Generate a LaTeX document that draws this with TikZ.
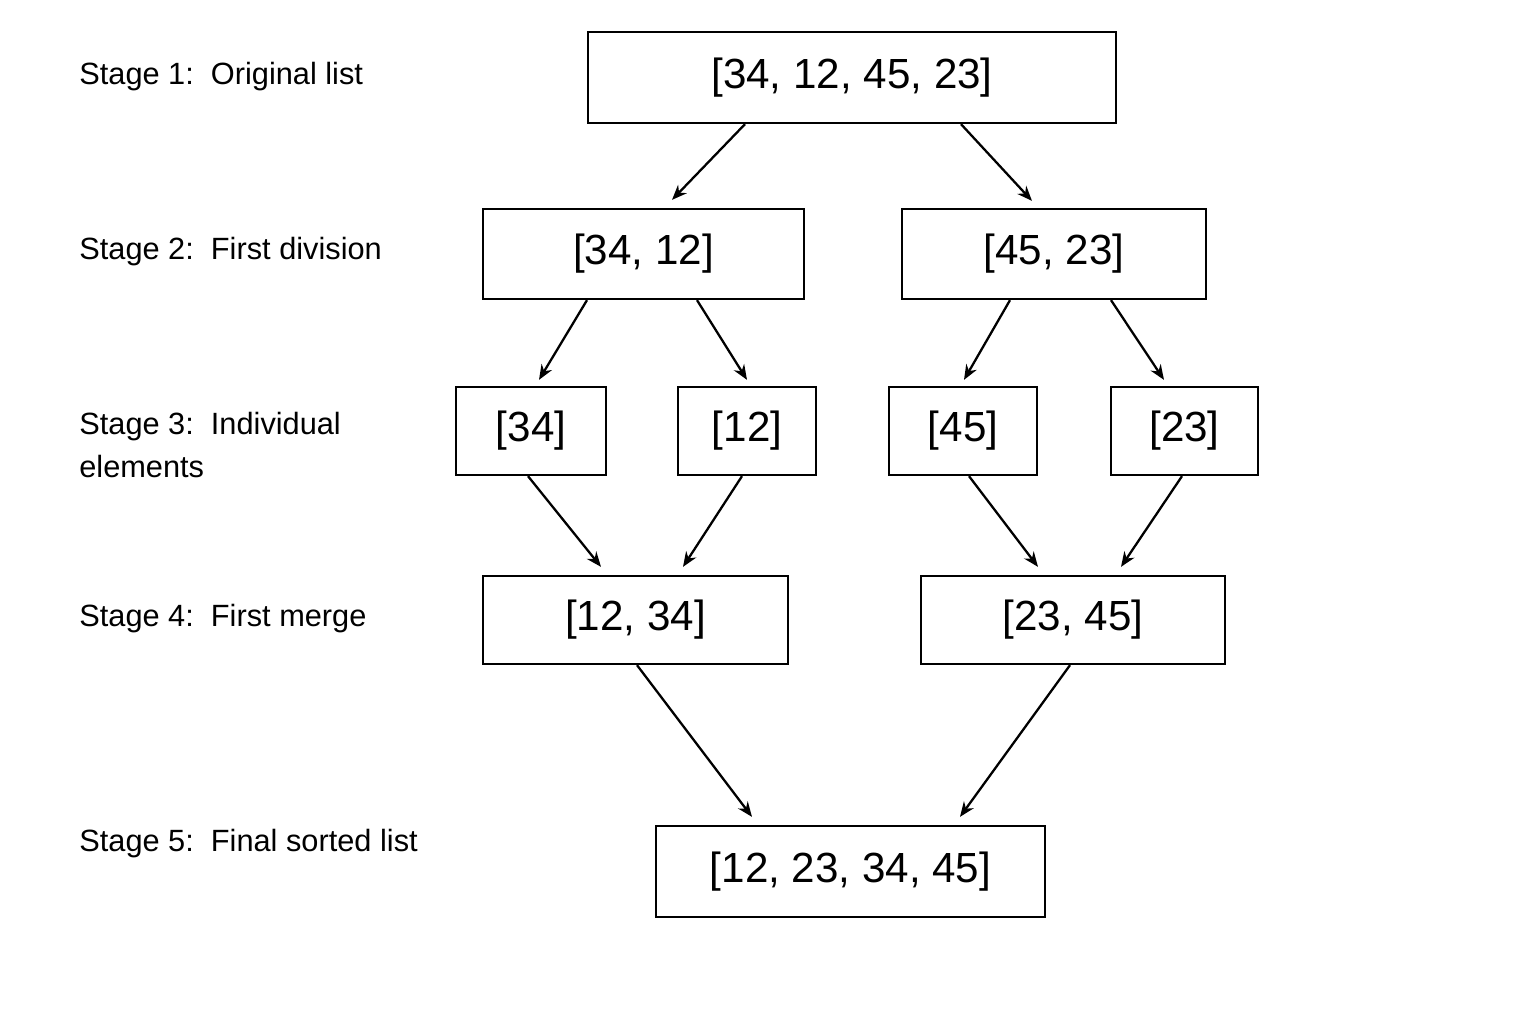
\documentclass[tikz,border=0pt]{standalone}
\usepackage{fontspec}
\setmainfont{Liberation Sans}
\usetikzlibrary{calc}
\usetikzlibrary{arrows.meta}

\tikzset{
  box/.style={draw,line width=1.3pt,inner sep=0pt,font=\fontsize{24}{28}\selectfont},
  stage/.style={anchor=west,align=left,inner sep=0pt,font=\fontsize{17.5}{24}\selectfont},
  arr/.style={line width=1.3pt,-{Stealth[length=0.3cm,width=0.24cm]}}
}

\begin{document}
\begin{tikzpicture}[x=0.02cm,y=-0.02cm]

\useasboundingbox (0,0) rectangle (1536,1024);

% etiquettes des etapes
\node[stage] (s1) at (79,77) {Stage 1:\ \ Original list};
\node[stage] (s2) at (79,252) {Stage 2:\ \ First division};
\node[stage] (s3) at (79,445) {Stage 3:\ \ Individual\\elements};
\node[stage] (s4) at (79,619) {Stage 4:\ \ First merge};
\node[stage] (s5) at (79,844) {Stage 5:\ \ Final sorted list};

% les listes
\node[box,minimum width=10.56cm,minimum height=1.82cm] (top) at (852,77.5) {[34, 12, 45, 23]};
\node[box,minimum width=6.42cm,minimum height=1.8cm] (l2) at (643.5,254) {[34, 12]};
\node[box,minimum width=6.08cm,minimum height=1.8cm] (r2) at (1054,254) {[45, 23]};
\node[box,minimum width=3cm,minimum height=1.76cm] (a) at (531,431) {[34]};
\node[box,minimum width=2.76cm,minimum height=1.76cm] (b) at (747,431) {[12]};
\node[box,minimum width=2.96cm,minimum height=1.76cm] (c) at (963,431) {[45]};
\node[box,minimum width=2.94cm,minimum height=1.76cm] (d) at (1184.5,431) {[23]};
\node[box,minimum width=6.1cm,minimum height=1.76cm] (m1) at (635.5,620) {[12, 34]};
\node[box,minimum width=6.08cm,minimum height=1.76cm] (m2) at (1073,620) {[23, 45]};
\node[box,minimum width=7.78cm,minimum height=1.82cm] (f) at (850.5,871.5) {[12, 23, 34, 45]};

% division
\draw[arr] ($(top.south)+(-107,0)$) -- ($(l2.north)+(28.5,-8)$);
\draw[arr] ($(top.south)+(109,0)$) -- ($(r2.north)+(-22,-7)$);
\draw[arr] ($(l2.south)+(-56.5,0)$) -- ($(a.north)+(8,-6)$);
\draw[arr] ($(l2.south)+(53.5,0)$) -- ($(b.north)+(0,-6)$);
\draw[arr] ($(r2.south)+(-44,0)$) -- ($(c.north)+(1,-6)$);
\draw[arr] ($(r2.south)+(57,0)$) -- ($(d.north)+(-20.5,-6)$);

% fusion
\draw[arr] ($(a.south)+(-3,0)$) -- ($(m1.north)+(-34.5,-8)$);
\draw[arr] ($(b.south)+(-5,0)$) -- ($(m1.north)+(47.5,-8)$);
\draw[arr] ($(c.south)+(6,0)$) -- ($(m2.north)+(-35,-8)$);
\draw[arr] ($(d.south)+(-2.5,0)$) -- ($(m2.north)+(48,-8)$);
\draw[arr] ($(m1.south)+(1.5,0)$) -- ($(f.north)+(-98.5,-8)$);
\draw[arr] ($(m2.south)+(-3,0)$) -- ($(f.north)+(109.5,-8)$);

\end{tikzpicture}
\end{document}
